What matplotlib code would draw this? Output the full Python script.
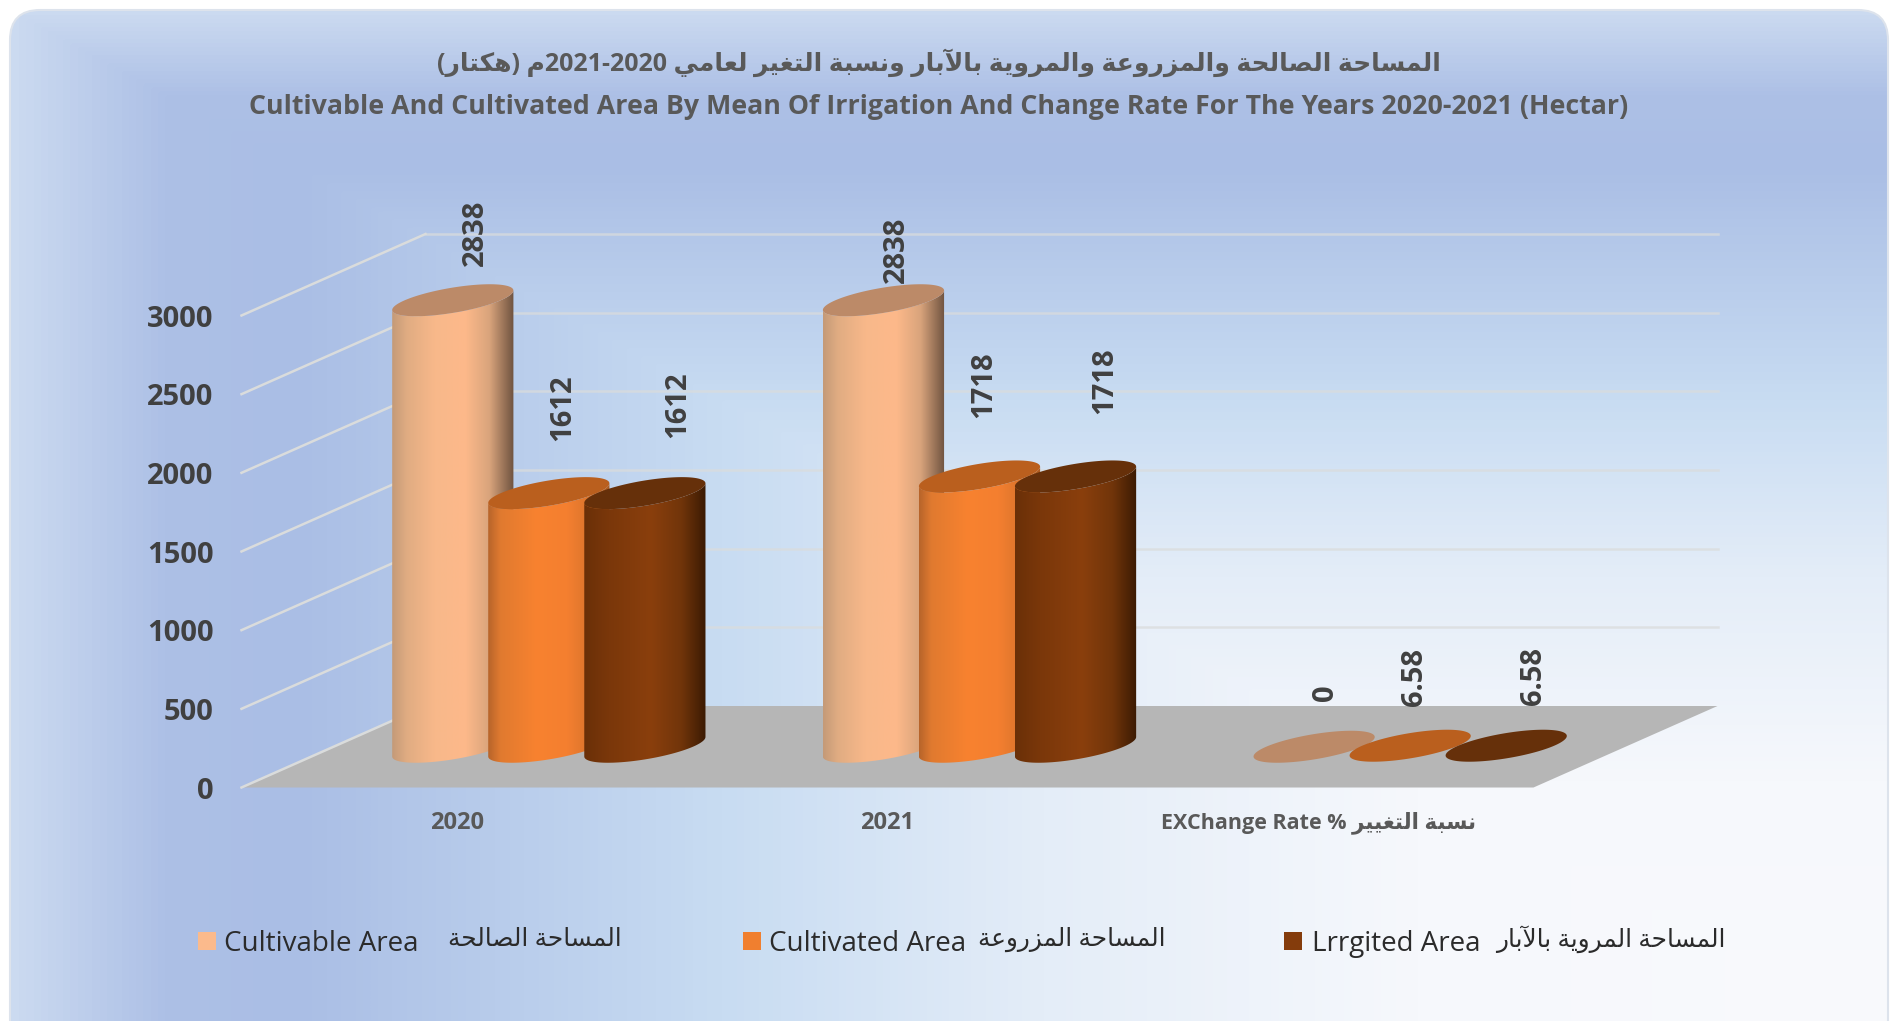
import numpy as np
import matplotlib
matplotlib.use("Agg")
import matplotlib.pyplot as plt
from matplotlib.colors import LinearSegmentedColormap
from matplotlib.patches import FancyBboxPatch, Polygon, Rectangle
from matplotlib.path import Path
from matplotlib.transforms import Affine2D, IdentityTransform

W, H = 1903, 1021

categories = ["2020", "2021", "change"]
cultivable = [2838, 2838, 0]
cultivated = [1612, 1718, 6.58]
irrigated = [1612, 1718, 6.58]
value_labels = [["2838", "2838", "0"], ["1612", "1718", "6.58"], ["1612", "1718", "6.58"]]
y_ticks = [0, 500, 1000, 1500, 2000, 2500, 3000]

# hand placed labels in the original, pixel offsets from the top of each bar
label_dx = [[23, 13, 11], [14, 4, 4], [33, 29, 27]]
label_dy = [[67, 50, 54], [85, 92, 69], [88, 96, 70]]

FORMS = {
    "ا": (0xFE8D, 0xFE8E), "آ": (0xFE81, 0xFE82), "ة": (0xFE93, 0xFE94),
    "ر": (0xFEAD, 0xFEAE), "ز": (0xFEAF, 0xFEB0), "و": (0xFEED, 0xFEEE),
    "ب": (0xFE8F, 0xFE90, 0xFE91, 0xFE92), "ت": (0xFE95, 0xFE96, 0xFE97, 0xFE98),
    "ح": (0xFEA1, 0xFEA2, 0xFEA3, 0xFEA4), "س": (0xFEB1, 0xFEB2, 0xFEB3, 0xFEB4),
    "ص": (0xFEB9, 0xFEBA, 0xFEBB, 0xFEBC), "ع": (0xFEC9, 0xFECA, 0xFECB, 0xFECC),
    "غ": (0xFECD, 0xFECE, 0xFECF, 0xFED0), "ك": (0xFED9, 0xFEDA, 0xFEDB, 0xFEDC),
    "ل": (0xFEDD, 0xFEDE, 0xFEDF, 0xFEE0), "م": (0xFEE1, 0xFEE2, 0xFEE3, 0xFEE4),
    "ن": (0xFEE5, 0xFEE6, 0xFEE7, 0xFEE8), "ه": (0xFEE9, 0xFEEA, 0xFEEB, 0xFEEC),
    "ي": (0xFEF1, 0xFEF2, 0xFEF3, 0xFEF4),
    "لا": (0xFEFB, 0xFEFC), "لآ": (0xFEF5, 0xFEF6),
}


def ar(text):
    # matplotlib has no shaping, so join the letters and lay them out left to right
    text = text.replace("لا", "\ue000").replace("لآ", "\ue001")
    names = {"\ue000": "لا", "\ue001": "لآ"}
    out = []
    for i, ch in enumerate(text):
        key = names.get(ch, ch)
        if key not in FORMS:
            out.append(ch)
            continue
        prev = text[i - 1] if i else " "
        prev = names.get(prev, prev)
        nxt = text[i + 1] if i + 1 < len(text) else " "
        nxt = names.get(nxt, nxt)
        joins_prev = prev in FORMS and len(FORMS[prev]) == 4
        joins_next = len(FORMS[key]) == 4 and nxt in FORMS
        forms = FORMS[key]
        if len(forms) == 2:
            out.append(chr(forms[1] if joins_prev else forms[0]))
        elif joins_prev and joins_next:
            out.append(chr(forms[3]))
        elif joins_next:
            out.append(chr(forms[2]))
        elif joins_prev:
            out.append(chr(forms[1]))
        else:
            out.append(chr(forms[0]))
    return "".join(reversed(out))


title_ar = ("(" + ar("هكتار") + ") " + ar("م") + "2021-2020 "
            + ar("لعامي") + " " + ar("التغير") + " " + ar("ونسبة") + " " + ar("بالآبار") + " "
            + ar("والمروية") + " " + ar("والمزروعة") + " " + ar("الصالحة") + " " + ar("المساحة"))
title_en = "Cultivable And Cultivated Area By Mean Of Irrigation And Change Rate For The Years 2020-2021 (Hectar)"
tick_labels = ["2020", "2021", "EXChange Rate % " + ar("نسبة التغيير")]
legend_en = ["Cultivable Area", "Cultivated Area", "Lrrgited Area"]
legend_ar = [ar("المساحة الصالحة"), ar("المساحة المزروعة"), ar("المساحة المروية بالآبار")]
legend_colors = ["#FBBA8C", "#F07F2F", "#843C0C"]

plt.rcParams["font.family"] = ["Open Sans", "DejaVu Sans"]

fig = plt.figure(figsize=(W / 100, H / 100), dpi=100, facecolor="white")

# rounded panel with the gradient running out from the bottom right corner
bg = fig.add_axes([0, 0, 1, 1], zorder=0)
bg.set_axis_off()
yy, xx = np.mgrid[0:1:300j, 0:1:560j]
grad = np.maximum(1 - xx, 1 - yy)
bg_cmap = LinearSegmentedColormap.from_list("panel", [
    (0, "#F9FAFD"), (0.25, "#F6F8FC"), (0.45, "#E4EDF8"), (0.62, "#C8DCF2"),
    (0.85, "#AABEE5"), (0.92, "#ADC0E6"), (1, "#CBDAF0"),
])
im = bg.imshow(grad, cmap=bg_cmap, vmin=0, vmax=1, extent=(10, 1888, 1040, 10),
               aspect="auto", interpolation="bilinear")
bg.set_xlim(0, W)
bg.set_ylim(H, 0)
panel = FancyBboxPatch((10, 10), 1878, 1100, boxstyle="round,pad=0,rounding_size=30",
                       facecolor="none", edgecolor="#DDE3EC", lw=1.5, transform=bg.transData)
bg.add_patch(panel)
im.set_clip_path(panel)

ax = fig.add_axes([241.5 / W, (H - 787.5) / H, 1292 / W, 472 / H], zorder=1)
ax.patch.set_visible(False)
ax.set_xlim(0, 3)
ax.set_ylim(0, 3000)
ax.autoscale(False)
for spine in ax.spines.values():
    spine.set_visible(False)

DX, DY = 184, 81.5  # how far the back wall sits from the front, pixels
back = ax.transData + Affine2D().translate(DX, DY)
grid_color = "#DADCDC"

# floor and walls
ax.add_patch(Polygon(np.array([ax.transData.transform((0, 0)), ax.transData.transform((3, 0)),
                               back.transform((3, 0)), back.transform((0, 0))]),
                     closed=True, facecolor="#B6B6B6", edgecolor="none",
                     transform=IdentityTransform(), clip_on=False, zorder=1))
for tick in y_ticks:
    p0 = ax.transData.transform((0, tick))
    p1 = back.transform((0, tick))
    ax.plot([p0[0], p1[0]], [p0[1], p1[1]], color=grid_color, lw=1.8,
            transform=IdentityTransform(), clip_on=False, zorder=1.5)
    if tick:
        ax.plot([0, 3], [tick, tick], color=grid_color, lw=1.8, alpha=0.75, transform=back,
                clip_on=False, zorder=0.5)

series = [cultivable, cultivated, irrigated]
body_stops = [
    [(0, "#C49A78"), (0.12, "#E0AC82"), (0.35, "#F8B88A"), (0.6, "#FDB98A"), (0.8, "#D9A47C"), (1, "#6F5340")],
    [(0, "#B7642A"), (0.1, "#E07A30"), (0.4, "#F8822F"), (0.65, "#F47F30"), (0.88, "#D5722B"), (1, "#A9591F")],
    [(0, "#6A3008"), (0.2, "#7A370A"), (0.55, "#8A3F0D"), (0.8, "#71350A"), (1, "#3B1A03")],
]
top_colors = ["#BC8A68", "#BA5F1E", "#66300A"]

bar_w = 0.223  # data units between neighbouring bars
RX, BX, BY = 48, 37, 16  # ellipse axes, pixels
t_right = np.arctan2(BX, RX)
half = np.linspace(t_right + np.pi, t_right + 2 * np.pi, 60)
full = np.linspace(0, 2 * np.pi, 120)


def ellipse(cx, cy, t):
    return np.column_stack([cx + RX * np.cos(t) + BX * np.sin(t), cy + BY * np.sin(t)])


z = 2
for c in range(len(categories)):
    for s, values in enumerate(series):
        pos = c + 0.5 + (s - 1) * bar_w
        x0, y0 = ax.transData.transform((pos, 0)) + (DX / 2, DY / 2)
        x1, y1 = ax.transData.transform((pos, values[c])) + (DX / 2, DY / 2)
        verts = np.vstack([ellipse(x0, y0, half), ellipse(x1, y1, half)[::-1]])
        left, right = verts[:, 0].min(), verts[:, 0].max()
        low, high = y0 - 30, y1 + 30
        if values[c] > 100:
            cmap = LinearSegmentedColormap.from_list(f"bar{s}", body_stops[s])
            body = ax.imshow(np.linspace(0, 1, 256)[None, :], cmap=cmap, aspect="auto",
                             extent=(left, right, low, high), transform=IdentityTransform(),
                             interpolation="bilinear", zorder=z)
            body.set_clip_path(Path(np.vstack([verts, verts[:1]])), transform=IdentityTransform())
            body.set_clip_box(fig.bbox)
        ax.add_patch(Polygon(ellipse(x1, y1, full), closed=True, facecolor=top_colors[s],
                             edgecolor="none", transform=IdentityTransform(),
                             clip_on=False, zorder=z + 0.5))
        ax.annotate(value_labels[s][c], (x1, y1), xycoords=IdentityTransform(),
                    xytext=(label_dx[s][c], label_dy[s][c]), textcoords="offset pixels",
                    rotation=90, ha="center", va="center", fontsize=21, fontweight="bold",
                    color="#404040", annotation_clip=False, zorder=20)
        z += 1

ax.set_yticks(y_ticks)
ax.set_yticklabels([str(t) for t in y_ticks], fontsize=21, fontweight="bold", color="#404040")
ax.set_xticks([0.5, 1.5, 2.5])
ax.set_xticklabels(tick_labels, fontsize=17, fontweight="bold", color="#595959")
ax.get_xticklabels()[2].set_fontsize(15.5)
ax.tick_params(axis="y", length=0, pad=20)
ax.tick_params(axis="x", length=0, pad=17)

fig.text(939 / W, 1 - 63 / H, title_ar, ha="center", va="center", fontsize=18,
         fontweight="bold", color="#595959", zorder=5)
fig.text(939 / W, 1 - 107 / H, title_en, ha="center", va="center", fontsize=19.3,
         fontweight="bold", color="#595959", zorder=5)

# legend entries sit at uneven spacing, so each one is placed on its own
patch_x = [198, 743, 1284]
latin_x = [224, 769, 1312]
arabic_right = [622, 1165, 1725]
for i in range(3):
    fig.add_artist(Rectangle((patch_x[i] / W, 1 - 950 / H), 18 / W, 18 / H, facecolor=legend_colors[i],
                             edgecolor="none", transform=fig.transFigure))
    fig.text(latin_x[i] / W, 1 - 944 / H, legend_en[i], ha="left", va="center", fontsize=20,
             color="#2B2B2B")
    fig.text(arabic_right[i] / W, 1 - 939 / H, legend_ar[i], ha="right", va="center", fontsize=17.8,
             color="#2B2B2B")

fig.savefig("out.png", dpi=100)
